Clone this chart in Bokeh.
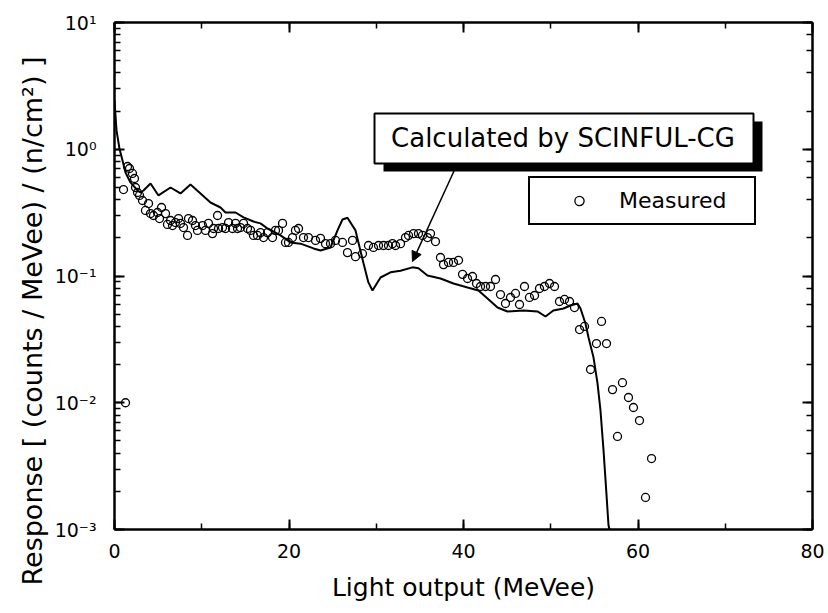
import math
from bokeh.plotting import figure
from bokeh.models import (LinearAxis, LogAxis, SingleIntervalTicker, Label, Title,
                          BoxAnnotation, Arrow, NormalHead, Legend, LegendItem,
                          CustomJSTickFormatter)
from bokeh.embed import file_html
from bokeh.resources import INLINE

# ---------------- data ----------------
calc_x = [0.0, 0.23, 0.57, 0.92, 1.26, 1.83, 2.64, 2.98, 3.32, 4.13, 5.04, 6.42, 7.56, 8.71,
          9.86, 11.0, 12.15, 12.72, 13.87, 14.79, 15.93, 16.73, 17.54, 19.03, 20.17, 21.32,
          22.81, 23.61, 24.76, 25.56, 26.13, 26.70, 27.62, 28.54, 29.1, 29.57, 30.49, 31.63,
          32.78, 34.15, 34.84, 35.87, 37.36, 38.85, 40.46, 41.72, 42.75, 43.90, 45.04, 46.88,
          48.48, 49.4, 50.3, 51.46, 52.26, 53.07, 53.41, 53.98, 54.33, 54.9, 55.36, 55.7,
          56.05, 56.28, 56.62, 56.73]
calc_y = [2.43, 1.41, 1.01, 0.815, 0.656, 0.547, 0.473, 0.456, 0.473, 0.537, 0.432, 0.499,
          0.448, 0.527, 0.448, 0.380, 0.347, 0.317, 0.317, 0.290, 0.269, 0.260, 0.237, 0.209,
          0.184, 0.180, 0.165, 0.159, 0.168, 0.229, 0.279, 0.288, 0.229, 0.126, 0.089, 0.0769,
          0.0973, 0.107, 0.110, 0.117, 0.115, 0.101, 0.0955, 0.0872, 0.0811, 0.0769, 0.0664,
          0.0564, 0.0525, 0.0534, 0.0525, 0.0479, 0.0534, 0.0554, 0.0585, 0.0607, 0.0554,
          0.0422, 0.0327, 0.0228, 0.0142, 0.00869, 0.0042, 0.00244, 0.00108, 0.001]

meas_x = [1.03, 1.26, 1.49, 1.72, 2.06, 2.29, 2.41, 2.64, 2.87, 3.21,
          3.55, 3.90, 4.13, 4.47, 4.93, 5.16, 5.39, 5.85, 6.07, 6.42,
          6.65, 6.99, 7.34, 7.56, 7.91, 8.37, 8.48, 8.94, 9.28, 9.51,
          10.09, 10.43, 10.77, 11.23, 11.35, 11.81, 11.92, 12.38, 12.72, 13.07,
          13.52, 13.87, 14.10, 14.44, 14.79, 15.24, 15.59, 15.93, 16.39, 16.73,
          17.08, 17.54, 18.11, 18.45, 18.80, 19.26, 19.60, 19.94, 20.40, 20.74,
          21.09, 21.66, 22.23, 23.04, 23.61, 24.18, 24.76, 25.33, 26.13, 26.70,
          27.28, 27.62, 28.42, 29.11, 29.68, 30.26, 30.83, 31.40, 31.86, 32.21,
          32.78, 33.35, 33.70, 34.27, 34.84, 35.30, 35.87, 36.22, 36.79, 37.36,
          37.71, 38.28, 38.85, 39.43, 39.89, 40.46, 41.03, 41.49, 41.95, 42.52,
          43.09, 43.67, 44.24, 44.81, 45.39, 45.96, 46.42, 46.99, 47.56, 48.14,
          48.71, 49.28, 49.86, 50.43, 51.00, 51.58, 52.15, 52.72, 53.30, 53.87,
          54.56, 55.24, 55.82, 56.39, 57.08, 57.65, 58.22, 58.91, 59.48, 60.17,
          60.86, 61.55]
meas_y = [0.481, 0.0100, 0.731, 0.705, 0.644, 0.588, 0.499, 0.456, 0.432, 0.394,
          0.329, 0.373, 0.311, 0.300, 0.317, 0.284, 0.347, 0.311, 0.255, 0.274,
          0.250, 0.264, 0.284, 0.260, 0.241, 0.209, 0.284, 0.274, 0.250, 0.229,
          0.250, 0.229, 0.260, 0.216, 0.237, 0.300, 0.237, 0.241, 0.237, 0.264,
          0.237, 0.260, 0.237, 0.241, 0.260, 0.237, 0.229, 0.209, 0.209, 0.220,
          0.201, 0.220, 0.201, 0.229, 0.229, 0.260, 0.184, 0.184, 0.201, 0.229,
          0.237, 0.201, 0.201, 0.191, 0.198, 0.180, 0.180, 0.191, 0.184, 0.153,
          0.191, 0.142, 0.150, 0.174, 0.168, 0.174, 0.174, 0.174, 0.180, 0.174,
          0.180, 0.201, 0.209, 0.216, 0.216, 0.209, 0.201, 0.216, 0.187, 0.140,
          0.123, 0.128, 0.128, 0.133, 0.103, 0.0956, 0.0991, 0.0873, 0.0826, 0.0826,
          0.0826, 0.0938, 0.0714, 0.0607, 0.0677, 0.0728, 0.0596, 0.0826, 0.0677, 0.0702,
          0.0797, 0.0826, 0.0873, 0.0826, 0.0629, 0.0653, 0.0629, 0.0564, 0.0378, 0.0400,
          0.0183, 0.0293, 0.0438, 0.0293, 0.0127, 0.00542, 0.0144, 0.0110, 0.00917, 0.00724,
          0.00179, 0.00363]

y_tick_labels = {"1": "10\u00b9", "0": "10\u2070", "-1": "10\u207b\u00b9",
                 "-2": "10\u207b\u00b2", "-3": "10\u207b\u00b3"}
x_title = "Light output (MeVee)"
y_title = "Response [ (counts / MeVee) / (n/cm\u00b2) ]"
calc_label = "Calculated by SCINFUL-CG"
meas_label = "Measured"

FONT = "DejaVu Sans"

p = figure(width=828, height=613, x_range=(0, 80), y_range=(1e-3, 10),
           y_axis_type="log", output_backend="svg", toolbar_location=None,
           min_border_left=114, min_border_right=16, min_border_top=22,
           min_border_bottom=84)
p.xgrid.visible = False
p.ygrid.visible = False
p.outline_line_color = None
p.background_fill_color = "white"
p.border_fill_color = "white"

def style_axis(ax, show_labels):
    ax.axis_line_width = 2.5
    ax.axis_line_color = "black"
    ax.major_tick_in = 10
    ax.major_tick_out = 0
    ax.minor_tick_in = 6
    ax.minor_tick_out = 0
    ax.major_tick_line_width = 2
    ax.minor_tick_line_width = 1.5
    ax.major_tick_line_color = "black"
    ax.minor_tick_line_color = "black"
    if not show_labels:
        ax.formatter = CustomJSTickFormatter(code="return ''")
        ax.major_label_text_font_size = "1px"
        ax.major_label_standoff = 0

xa = p.xaxis[0]
xa.ticker = SingleIntervalTicker(interval=20, num_minor_ticks=2)
style_axis(xa, True)
xa.major_label_text_font = FONT
xa.major_label_text_font_size = "19px"
xa.major_label_text_color = "black"
xa.major_label_standoff = 14
xa.axis_label = x_title
xa.axis_label_text_font = FONT
xa.axis_label_text_font_size = "25px"
xa.axis_label_text_font_style = "normal"
xa.axis_label_text_color = "black"
xa.axis_label_standoff = 12

ya = p.yaxis[0]
style_axis(ya, True)
ya.formatter = CustomJSTickFormatter(args=dict(labels=y_tick_labels), code="""
    const k = String(Math.round(Math.log10(tick)));
    return (k in labels) ? labels[k] : '';
""")
ya.major_label_text_font = FONT
ya.major_label_text_font_size = "19px"
ya.major_label_text_color = "black"
ya.major_label_standoff = 18

# y title as a side title so it can sit lower than the frame's centre, as in the reference
p.add_layout(Title(text=y_title, align="left", offset=-56, standoff=8,
                   text_font=FONT, text_font_size="27px", text_font_style="normal",
                   text_color="black"), "left")

top = LinearAxis(ticker=SingleIntervalTicker(interval=20, num_minor_ticks=2))
style_axis(top, False)
p.add_layout(top, "above")
right = LogAxis()
style_axis(right, False)
p.add_layout(right, "right")

# ---- data ----
p.line(calc_x, calc_y, line_color="black", line_width=2)
r_meas = p.scatter(meas_x, meas_y, marker="circle", size=8, fill_color=None,
                   line_color="black", line_width=1.3)

# ---- callout box for calculation ----
p.add_layout(BoxAnnotation(left=30.83, right=74.27, top=1.655, bottom=0.668,
                           fill_color="black", fill_alpha=1, line_color=None))
p.add_layout(BoxAnnotation(left=29.80, right=73.24, top=1.915, bottom=0.772,
                           fill_color="white", fill_alpha=1, line_color="black",
                           line_alpha=1, line_width=2))
p.add_layout(Label(x=51.4, y=1.216, text=calc_label, text_align="center",
                   text_baseline="middle", text_font=FONT, text_font_size="26px",
                   text_color="black"))
p.add_layout(Arrow(end=NormalHead(size=10, fill_color="black", line_color="black"),
                   x_start=39.31, y_start=0.772, x_end=34.15, y_end=0.130,
                   line_width=1.5, line_color="black"))

# ---- legend for measured ----
p.add_layout(BoxAnnotation(left=48.37, right=73.12, top=0.4677, bottom=0.2705,
                           fill_color="black", fill_alpha=1, line_color=None))
leg = Legend(items=[LegendItem(label=meas_label, renderers=[r_meas])],
             location=(414, 304), orientation="vertical")
leg.border_line_color = "black"
leg.border_line_alpha = 1
leg.border_line_width = 2
leg.background_fill_color = "white"
leg.background_fill_alpha = 1
leg.padding = 10
leg.margin = 0
leg.spacing = 0
leg.glyph_width = 78
leg.glyph_height = 23
leg.label_standoff = 1
leg.label_width = 125
leg.label_height = 23
leg.label_text_font = FONT
leg.label_text_font_size = "22px"
leg.label_text_color = "black"
p.add_layout(leg, "center")

open("out.html", "w").write(file_html(p, INLINE))
